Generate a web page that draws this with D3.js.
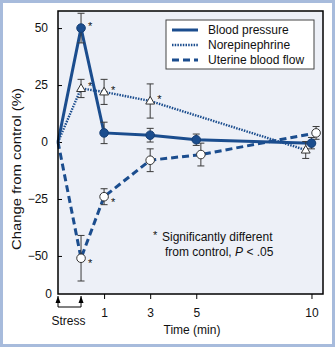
<!DOCTYPE html>
<html>
<head>
<meta charset="utf-8">
<script src="https://cdn.jsdelivr.net/npm/d3@7"></script>
<style>
  html, body { margin: 0; padding: 0; background: #fff; }
  svg { display: block; font-family: "Liberation Sans", Arial, sans-serif; }
</style>
</head>
<body>
<div id="chart"></div>
<script>
// time (min) of each reading; 0 is the end of the stress period
var bpTimes = [-1, 0, 1, 3, 5, 10];
var bpValues = [0, 50, 4, 3, 1, -0.5];
var bpErrors = [0, 6.5, 4.7, 3, 2.5, 2.5];
var bpSig = [false, true, false, false, false, false];

var neTimes = [-1, 0, 1, 3, 9.75];
var neValues = [0, 23.5, 22, 18, -3.5];
var neErrors = [0, 4, 5.5, 7.5, 3.7];
var neSig = [false, true, true, true, false];

var ubfTimes = [-1, 0, 1, 3, 5.2, 10.2];
var ubfValues = [0, -51, -24, -8, -5.5, 4];
var ubfErrors = [0, 10, 3.5, 5, 5, 2.8];
var ubfSig = [false, true, true, false, false, false];

var yTicks = [50, 25, 0, -25, -50];
var xTicks = [1, 3, 5, 10];
var stressTimes = [-1, 0];
var seriesNames = ['Blood pressure', 'Norepinephrine', 'Uterine blood flow'];

var W = 335, H = 347;
var plotL = 58, plotT = 11, plotR = 323, plotB = 294;
var blue = '#1b4d8e';
var barColor = '#3a3a3a';

function toPoints(times, values, errors, sig) {
    return times.map(function (t, i) {
        return {t: t, v: values[i], e: errors[i], sig: sig[i], first: i === 0};
    });
}

var series = [
    {name: seriesNames[0], pts: toPoints(bpTimes, bpValues, bpErrors, bpSig), dash: null, width: 3, marker: 'filled', starBelow: false},
    {name: seriesNames[1], pts: toPoints(neTimes, neValues, neErrors, neSig), dash: '1.5,1.2', width: 2.4, marker: 'triangle', starBelow: false},
    {name: seriesNames[2], pts: toPoints(ubfTimes, ubfValues, ubfErrors, ubfSig), dash: '7,4', width: 3, marker: 'open', starBelow: true}
];

var x = d3.scaleLinear().domain([-1, 10.5]).range([plotL, plotR]);
var y = d3.scaleLinear().domain([-66.7, 57.5]).range([plotB, plotT]);

var svg = d3.select('#chart').append('svg')
    .attr('width', W)
    .attr('height', H);

// outer frame
svg.append('rect')
    .attr('x', 1.5).attr('y', 1.5)
    .attr('width', W - 3).attr('height', H - 3)
    .attr('fill', '#fff')
    .attr('stroke', '#a7bbdc')
    .attr('stroke-width', 3);

// plot area
svg.append('rect')
    .attr('x', plotL).attr('y', plotT)
    .attr('width', plotR - plotL).attr('height', plotB - plotT)
    .attr('fill', '#edf0f7');

// y axis, ticks inward
var yAxis = svg.append('g')
    .attr('transform', 'translate(' + plotL + ',0)')
    .call(d3.axisLeft(y).tickValues(yTicks).tickSizeInner(-4).tickSizeOuter(0).tickPadding(10)
        .tickFormat(function (d) { return d < 0 ? '\u2212' + Math.abs(d) : d; }));
yAxis.select('.domain').remove();
yAxis.selectAll('line').attr('stroke', '#000');
yAxis.selectAll('text').attr('font-size', 12).attr('fill', '#111').attr('font-family', null);

// x axis, ticks outward
var xAxis = svg.append('g')
    .attr('transform', 'translate(0,' + plotB + ')')
    .call(d3.axisBottom(x).tickValues(xTicks).tickSizeInner(5).tickSizeOuter(0).tickPadding(9));
xAxis.select('.domain').remove();
xAxis.selectAll('line').attr('stroke', '#000');
xAxis.selectAll('text').attr('font-size', 12).attr('fill', '#111').attr('font-family', null);

// bottom-left origin label
svg.append('text')
    .attr('x', plotL - 6).attr('y', plotB + 4)
    .attr('text-anchor', 'end')
    .attr('font-size', 12).attr('fill', '#111')
    .text('0');

// stress bracket with arrows
var sy0 = plotB + 2, sy1 = plotB + 13;
svg.append('path')
    .attr('d', 'M' + x(stressTimes[0]) + ',' + sy0 + 'V' + sy1 + 'H' + x(stressTimes[1]) + 'V' + sy0)
    .attr('fill', 'none').attr('stroke', '#000').attr('stroke-width', 1);
stressTimes.forEach(function (t) {
    var cx = x(t);
    svg.append('path')
        .attr('d', 'M' + cx + ',' + sy0 + 'L' + (cx - 2.5) + ',' + (sy0 + 7) + 'L' + (cx + 2.5) + ',' + (sy0 + 7) + 'Z')
        .attr('fill', '#000');
});
svg.append('text')
    .attr('x', (x(stressTimes[0]) + x(stressTimes[1])) / 2 - 1)
    .attr('y', plotB + 31)
    .attr('text-anchor', 'middle')
    .attr('font-size', 12).attr('fill', '#111')
    .text('Stress');

// axis titles
svg.append('text')
    .attr('x', 192).attr('y', 334)
    .attr('text-anchor', 'middle')
    .attr('font-size', 12).attr('fill', '#111')
    .text('Time (min)');

svg.append('text')
    .attr('transform', 'translate(21,169) rotate(-90)')
    .attr('text-anchor', 'middle')
    .attr('font-size', 12.5).attr('fill', '#111')
    .attr('textLength', 162)
    .attr('lengthAdjust', 'spacingAndGlyphs')
    .text('Change from control (%)');

var line = d3.line()
    .x(function (d) { return x(d.t); })
    .y(function (d) { return y(d.v); });

// lines
series.forEach(function (s) {
    svg.append('path')
        .datum(s.pts)
        .attr('d', line)
        .attr('fill', 'none')
        .attr('stroke', blue)
        .attr('stroke-width', s.width)
        .attr('stroke-dasharray', s.dash);
});

// error bars
series.forEach(function (s) {
    var g = svg.append('g');
    s.pts.filter(function (d) { return d.e > 0; }).forEach(function (d) {
        var cx = x(d.t), y1 = y(d.v + d.e), y2 = y(d.v - d.e);
        g.append('path')
            .attr('d', 'M' + cx + ',' + y1 + 'V' + y2 +
                'M' + (cx - 3.5) + ',' + y1 + 'H' + (cx + 3.5) +
                'M' + (cx - 3.5) + ',' + y2 + 'H' + (cx + 3.5))
            .attr('fill', 'none')
            .attr('stroke', barColor)
            .attr('stroke-width', 1);
    });
});

// markers and significance stars
series.forEach(function (s) {
    var g = svg.append('g');
    s.pts.filter(function (d) { return !d.first; }).forEach(function (d) {
        var cx = x(d.t), cy = y(d.v);
        if (s.marker === 'triangle') {
            g.append('path')
                .attr('d', d3.symbol().type(d3.symbolTriangle).size(34)())
                .attr('transform', 'translate(' + cx + ',' + (cy + 0.5) + ')')
                .attr('fill', '#fff').attr('stroke', '#333').attr('stroke-width', 1);
        } else {
            g.append('circle')
                .attr('cx', cx).attr('cy', cy).attr('r', 4.3)
                .attr('fill', s.marker === 'filled' ? blue : '#fff')
                .attr('stroke', s.marker === 'filled' ? '#163f75' : '#333')
                .attr('stroke-width', 1);
        }
        if (d.sig) {
            g.append('text')
                .attr('x', cx + 7)
                .attr('y', cy + (s.starBelow ? 9 : 2))
                .attr('font-size', 11).attr('fill', '#111')
                .text('*');
        }
    });
});

// plot border
svg.append('rect')
    .attr('x', plotL).attr('y', plotT)
    .attr('width', plotR - plotL).attr('height', plotB - plotT)
    .attr('fill', 'none')
    .attr('stroke', '#000')
    .attr('stroke-width', 1.5);

// legend
var lg = svg.append('g').attr('transform', 'translate(166,20)');
lg.append('rect')
    .attr('width', 148).attr('height', 49)
    .attr('fill', '#fff').attr('stroke', '#444').attr('stroke-width', 1);
series.forEach(function (s, i) {
    var ly = 10 + i * 15;
    lg.append('line')
        .attr('x1', 6).attr('x2', 32)
        .attr('y1', ly).attr('y2', ly)
        .attr('stroke', blue)
        .attr('stroke-width', s.width)
        .attr('stroke-dasharray', s.dash);
    lg.append('text')
        .attr('x', 42).attr('y', ly + 4)
        .attr('font-size', 12).attr('fill', '#111')
        .text(s.name);
});

// significance note
var note = svg.append('text').attr('font-size', 12).attr('fill', '#111');
note.append('tspan').attr('x', 153).attr('y', 239).attr('font-size', 11).text('*');
note.append('tspan').attr('x', 162).attr('y', 241).text('Significantly different');
var note2 = svg.append('text').attr('x', 165).attr('y', 256).attr('font-size', 12).attr('fill', '#111');
note2.append('tspan').text('from control, ');
note2.append('tspan').attr('font-style', 'italic').text('P');
note2.append('tspan').text(' < .05');
</script>
</body>
</html>
